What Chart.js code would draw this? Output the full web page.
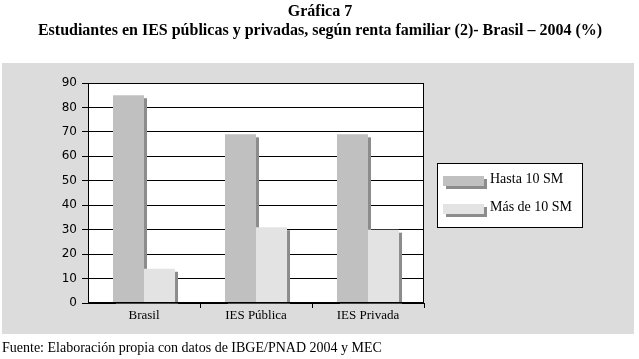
<!DOCTYPE html>
<html>
<head>
<meta charset="utf-8">
<script src="https://cdn.jsdelivr.net/npm/chart.js@4/dist/chart.umd.min.js"></script>
<style>
  html, body { margin: 0; padding: 0; background: #fff; }
  #wrap { width: 639px; height: 359px; }
</style>
</head>
<body>
<div id="wrap"><canvas id="grafica7" width="639" height="359"></canvas></div>
<script>
const categories = ["Brasil", "IES Pública", "IES Privada"];
const hasta10SM = [85, 69, 69];
const mas10SM = [14, 31, 30];
const yTicks = [0, 10, 20, 30, 40, 50, 60, 70, 80, 90];

const SERIF = "'Liberation Serif', 'DejaVu Serif', serif";

// gray panel, white plot area, titles, legend box, shadows
const decor = {
  id: "decor",
  beforeDraw(chart) {
    const ctx = chart.ctx;
    const a = chart.chartArea;
    ctx.save();
    ctx.fillStyle = "#fff";
    ctx.fillRect(0, 0, chart.width, chart.height);
    ctx.fillStyle = "#dcdcdc";
    ctx.fillRect(2, 63, 632, 271);
    ctx.fillStyle = "#fff";
    ctx.fillRect(a.left, a.top, a.right - a.left, a.bottom - a.top);

    ctx.fillStyle = "#000";
    ctx.textAlign = "center";
    ctx.textBaseline = "middle";
    ctx.font = "bold 16px " + SERIF;
    ctx.fillText("Gráfica 7", 320, 12);
    ctx.fillText("Estudiantes en IES públicas y privadas, según renta familiar (2)- Brasil – 2004 (%)", 320, 31);
    ctx.textAlign = "left";
    ctx.font = "14px " + SERIF;
    ctx.fillText("Fuente: Elaboración propia con datos de IBGE/PNAD 2004 y MEC", 2, 348);
    ctx.restore();
  },
  beforeDatasetsDraw(chart) {
    const ctx = chart.ctx;
    ctx.save();
    ctx.fillStyle = "#8c8c8c";
    chart.data.datasets.forEach((ds, i) => {
      chart.getDatasetMeta(i).data.forEach(bar => {
        ctx.fillRect(bar.x - bar.width / 2 + 3, bar.y + 3, bar.width, bar.base - bar.y - 2);
      });
    });
    ctx.restore();
  },
  afterDatasetsDraw(chart) {
    const ctx = chart.ctx;
    const a = chart.chartArea;
    ctx.save();
    ctx.strokeStyle = "#000";
    ctx.lineWidth = 1;
    ctx.strokeRect(Math.round(a.left) + 0.5, Math.round(a.top) + 0.5,
      Math.round(a.right - a.left) - 1, Math.round(a.bottom - a.top) - 1);

    // legend
    ctx.fillStyle = "#fff";
    ctx.fillRect(437, 163, 145, 64);
    ctx.strokeRect(437.5, 163.5, 145, 64);
    const rowsY = [176, 204];
    chart.data.datasets.forEach((ds, i) => {
      const y = rowsY[i];
      ctx.fillStyle = "#8c8c8c";
      ctx.fillRect(446, y + 3, 41, 10);
      ctx.fillStyle = ds.backgroundColor;
      ctx.fillRect(443, y, 41, 10);
      ctx.fillStyle = "#000";
      ctx.font = "14px " + SERIF;
      ctx.textAlign = "left";
      ctx.textBaseline = "middle";
      ctx.fillText(ds.label, 490, y + 3);
    });
    ctx.restore();
  }
};

new Chart(document.getElementById("grafica7"), {
  type: "bar",
  data: {
    labels: categories,
    datasets: [
      { label: "Hasta 10 SM", data: hasta10SM, backgroundColor: "#c0c0c0" },
      { label: "Más de 10 SM", data: mas10SM, backgroundColor: "#e3e3e3" }
    ]
  },
  options: {
    responsive: false,
    animation: false,
    events: [],
    layout: { padding: { left: 0, right: 215, top: 83, bottom: 0 } },
    datasets: {
      bar: { categoryPercentage: 0.554, barPercentage: 1, borderWidth: 0 }
    },
    plugins: {
      legend: { display: false },
      title: { display: false },
      tooltip: { enabled: false }
    },
    scales: {
      x: {
        afterFit(scale) { scale.height = 56; },
        grid: {
          offset: true,
          drawOnChartArea: false,
          tickLength: 5,
          color: ctx => (ctx.index === 0 || ctx.index >= categories.length) ? "rgba(0,0,0,0)" : "#000"
        },
        border: { display: false },
        ticks: { color: "#000", padding: 0, font: { family: SERIF, size: 13 } }
      },
      y: {
        min: 0,
        max: 90,
        afterFit(scale) { scale.width = 88; },
        afterBuildTicks(scale) { scale.ticks = yTicks.map(v => ({ value: v })); },
        grid: { color: "#000", lineWidth: 1, tickLength: 6 },
        border: { display: false },
        ticks: { color: "#000", padding: 5, font: { family: "'DejaVu Sans', sans-serif", size: 12 } }
      }
    }
  },
  plugins: [decor]
});
</script>
</body>
</html>
